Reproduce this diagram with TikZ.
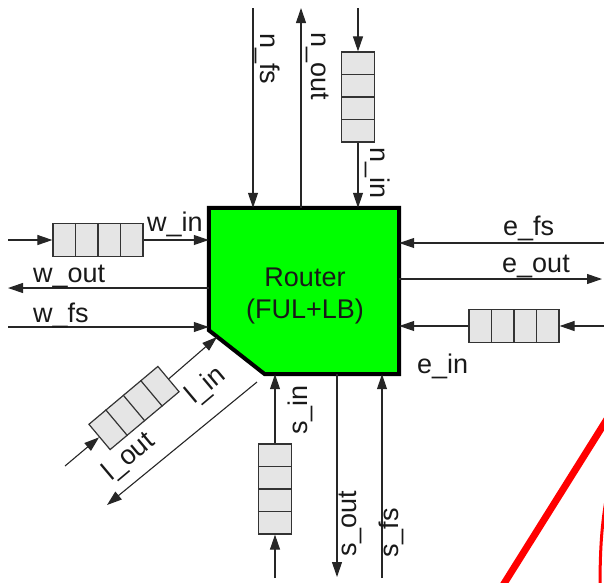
\documentclass[tikz,border=0pt]{standalone}
\usepackage{fontspec}
\setmainfont{Liberation Sans}
\usetikzlibrary{arrows.meta,calc}

\definecolor{routergreen}{RGB}{0,255,0}
\newcommand{\lblfont}{\fontsize{27}{32}\selectfont}
% draws the three inner walls of a queue node
\newcommand{\qcells}[1]{\foreach \k in {1,2,3} {\draw[qline] ($(#1.north west)!\k/4!(#1.north east)$) -- ($(#1.south west)!\k/4!(#1.south east)$);}}

\tikzset{
	arr/.style={draw=black!85, line width=1.1pt, -{Triangle[length=15pt,width=10pt]}},
	queue/.style={draw=black!80, fill=black!10, line width=1.2pt, minimum width=90pt, minimum height=33pt, inner sep=0pt},
	qline/.style={draw=black!80, line width=1.2pt},
	lbl/.style={font=\lblfont, inner sep=0pt, text=black!90},
}

\begin{document}
\begin{tikzpicture}[x=1pt, y=-1pt]
	\useasboundingbox (0,0) rectangle (604,582);

	% router block with the cut corner
	\node[minimum width=190pt, minimum height=166pt, inner sep=0pt] (router) at (304,291) {};
	\draw[line width=4pt, fill=routergreen] (router.north west) -- (router.north east) -- (router.south east) -- ([xshift=56pt]router.south west) -- ([yshift=44pt]router.south west) -- cycle;
	\node[font=\lblfont, align=center, text=black!90, inner sep=0pt] (routerTxt) at (305,296) {\fontsize{27}{40}\selectfont Router\\(FUL+LB)};

	% queues
	\node[queue] (qw) at (98,240) {};
	\node[queue, rotate=-90] (qn) at (358,97) {};
	\node[queue, rotate=180] (qe) at (514,326) {};
	\node[queue, rotate=90] (qs) at (275,489) {};
	\node[queue, rotate=40] (ql) at (134,408) {};
	\foreach \q in {qw,qn,qe,qs,ql} {\qcells{\q}}

	% west
	\coordinate (winS) at (8,240);
	\coordinate (woutE) at (8,288);
	\coordinate (wfsS) at (8,327);
	\draw[arr] (winS) -- (qw.west);
	\draw[arr] (qw.east) -- (qw.east -| router.west);
	\draw[arr] (woutE -| router.west) -- (woutE);
	\draw[arr] (wfsS) -- (wfsS -| router.west);
	\node[lbl, anchor=base west] (wInLbl) at (147,231) {w\_in};
	\node[lbl, anchor=base west] (wOutLbl) at (33,282) {w\_out};
	\node[lbl, anchor=base west] (wFsLbl) at (33,322) {w\_fs};

	% north
	\coordinate (nfsS) at (253,8);
	\coordinate (noutE) at (301,8);
	\coordinate (ninS) at (358,8);
	\draw[arr] (nfsS) -- (nfsS |- router.north);
	\draw[arr] (noutE |- router.north) -- (noutE);
	\draw[arr] (ninS) -- (qn.west);
	\draw[arr] (qn.east) -- (qn.east |- router.north);
	\node[lbl, rotate=-90, anchor=base west] (nFsLbl) at (260,33) {n\_fs};
	\node[lbl, rotate=-90, anchor=base west] (nOutLbl) at (311,32) {n\_out};
	\node[lbl, rotate=-90, anchor=base west] (nInLbl) at (370,147) {n\_in};

	% east
	\coordinate (efsS) at (604,243);
	\coordinate (eoutE) at (602,279);
	\coordinate (einS) at (604,326);
	\draw[arr] (efsS) -- (efsS -| router.east);
	\draw[arr] (eoutE -| router.east) -- (eoutE);
	\draw[arr] (einS) -- (qe.west);
	\draw[arr] (qe.east) -- (qe.east -| router.east);
	\node[lbl, anchor=base west] (eFsLbl) at (503,235) {e\_fs};
	\node[lbl, anchor=base west] (eOutLbl) at (502,272) {e\_out};
	\node[lbl, anchor=base west] (eInLbl) at (417,373) {e\_in};

	% south
	\coordinate (sinS) at (275,578);
	\coordinate (soutE) at (337,577);
	\coordinate (sfsS) at (382,578);
	\draw[arr] (sinS) -- (qs.west);
	\draw[arr] (qs.east) -- (qs.east |- router.south);
	\draw[arr] (soutE |- router.south) -- (soutE);
	\draw[arr] (sfsS) -- (sfsS |- router.south);
	\node[lbl, rotate=90, anchor=base west] (sInLbl) at (307,435) {s\_in};
	\node[lbl, rotate=90, anchor=base west] (sOutLbl) at (356,557) {s\_out};
	\node[lbl, rotate=90, anchor=base west] (sFsLbl) at (398,558) {s\_fs};

	% local port on the cut corner
	\coordinate (linS) at (65,466);
	\coordinate (linE) at (217,337);
	\coordinate (loutS) at (257,382);
	\coordinate (loutE) at (107,505);
	\draw[arr] (linS) -- (ql.west);
	\draw[arr] (ql.east) -- (linE);
	\draw[arr] (loutS) -- (loutE);
	\node[lbl, rotate=40] (lInLbl) at (206,386) {l\_in};
	\node[lbl, rotate=40] (lOutLbl) at (129,457) {l\_out};

	% red strokes in the corner
	\begin{scope}
		\clip (0,0) rectangle (604,582);
		\draw[red, line width=7pt] (614,408) -- (495,598);
		\draw[red, line width=3pt] (606,500) .. controls (601,530) and (600,555) .. (600,590);
	\end{scope}
\end{tikzpicture}
\end{document}
